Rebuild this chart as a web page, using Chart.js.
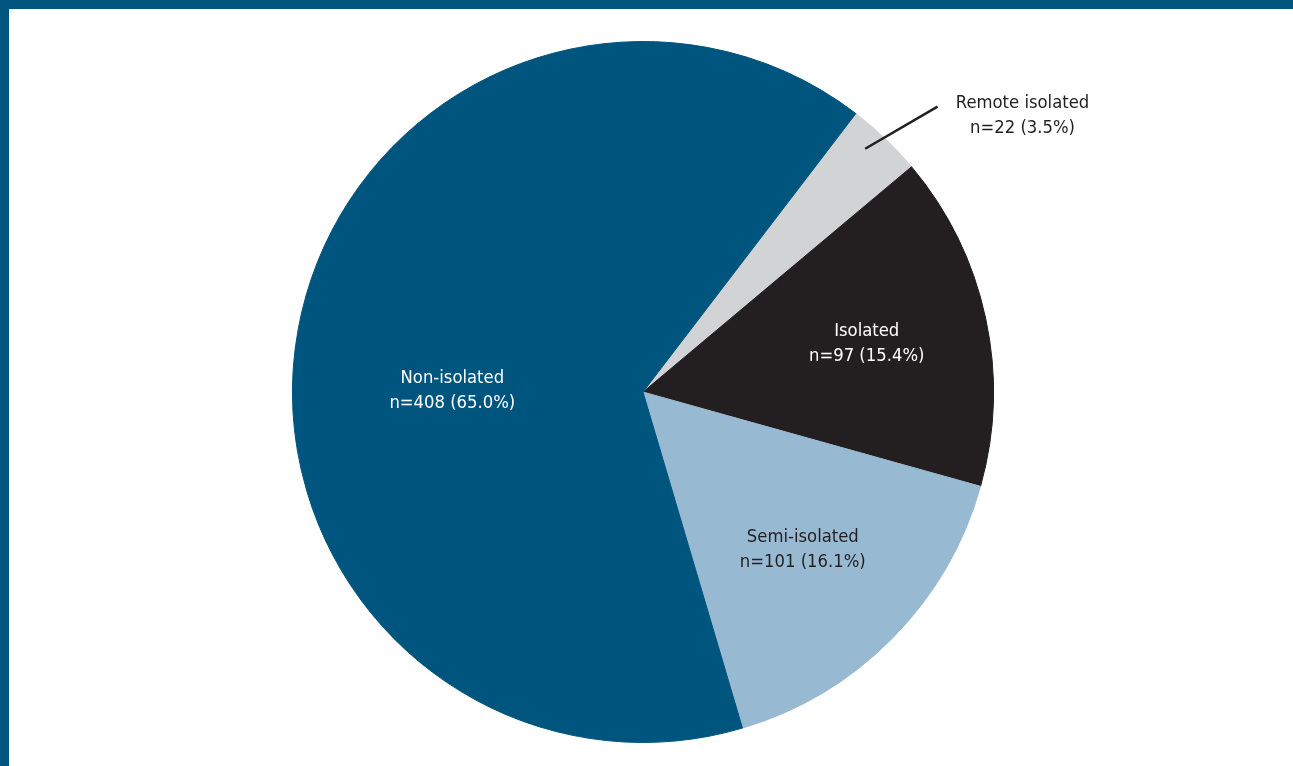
<!DOCTYPE html>
<html>
<head>
<meta charset="utf-8">
<script src="https://cdn.jsdelivr.net/npm/chart.js@4.4.1/dist/chart.umd.min.js"></script>
<style>
    html, body { margin: 0; padding: 0; background: #fff; }
    #frame {
        position: absolute; left: 0; top: 0; width: 1293px; height: 766px;
        box-sizing: border-box; border-top: 9px solid #00557f; border-left: 9px solid #00557f;
    }
    #wrap { position: absolute; left: 0; top: 0; width: 1293px; height: 766px; }
</style>
</head>
<body>
<div id="frame"></div>
<div id="wrap"><canvas id="pieChart" width="1293" height="766"></canvas></div>
<script>
// Slice data, in drawing order (clockwise from the top-right)
const categories = ['Remote isolated', 'Isolated', 'Semi-isolated', 'Non-isolated'];
const counts = [22, 97, 101, 408];
const percents = ['3.5%', '15.4%', '16.1%', '65.0%'];

const sliceColors = ['#d1d3d4', '#231f20', '#98b9d2', '#00557f'];
const textColors = ['#231f20', '#ffffff', '#231f20', '#ffffff'];

// where each label sits: angle offset from slice middle (deg) and radius fraction
const labelLayout = [
    { da: 10.2, r: 1.34, leader: [[-1.3, 0.94], [2.2, 1.17]] },
    { da: 0, r: 0.653 },
    { da: 0, r: 0.64 },
    { da: -10, r: 0.544 }
];

const FONT = '18.3px "Liberation Sans Narrow", "DejaVu Sans Condensed", sans-serif';

const sliceLabels = {
    id: 'sliceLabels',
    afterDatasetsDraw(chart) {
        const ctx = chart.ctx;
        const arcs = chart.getDatasetMeta(0).data;
        ctx.save();
        ctx.font = FONT;
        ctx.textAlign = 'center';
        ctx.textBaseline = 'middle';
        arcs.forEach((arc, i) => {
            const p = arc.getProps(['x', 'y', 'startAngle', 'endAngle', 'outerRadius'], true);
            const mid = (p.startAngle + p.endAngle) / 2;
            const lay = labelLayout[i];
            const at = (da, rf) => {
                const a = mid + da * Math.PI / 180;
                return [p.x + Math.cos(a) * rf * p.outerRadius, p.y + Math.sin(a) * rf * p.outerRadius];
            };
            if (lay.leader) {
                const s = at(lay.leader[0][0], lay.leader[0][1]);
                const e = at(lay.leader[1][0], lay.leader[1][1]);
                ctx.strokeStyle = '#231f20';
                ctx.lineWidth = 2.5;
                ctx.beginPath();
                ctx.moveTo(s[0], s[1]);
                ctx.lineTo(e[0], e[1]);
                ctx.stroke();
            }
            const c = at(lay.da, lay.r);
            ctx.fillStyle = textColors[i];
            ctx.fillText(categories[i], c[0], c[1] - 12.5);
            ctx.fillText('n=' + counts[i] + ' (' + percents[i] + ')', c[0], c[1] + 12.5);
        });
        ctx.restore();
    }
};

const ctx = document.getElementById('pieChart').getContext('2d');
new Chart(ctx, {
    type: 'pie',
    data: {
        labels: categories,
        datasets: [{
            data: counts,
            backgroundColor: sliceColors,
            borderColor: sliceColors,
            borderWidth: 1,
            hoverOffset: 0
        }]
    },
    options: {
        responsive: false,
        animation: false,
        rotation: 37.4,
        layout: { padding: { left: 292, right: 299, top: 41, bottom: 23 } },
        plugins: {
            legend: { display: false },
            tooltip: { enabled: false }
        }
    },
    plugins: [sliceLabels]
});
</script>
</body>
</html>
